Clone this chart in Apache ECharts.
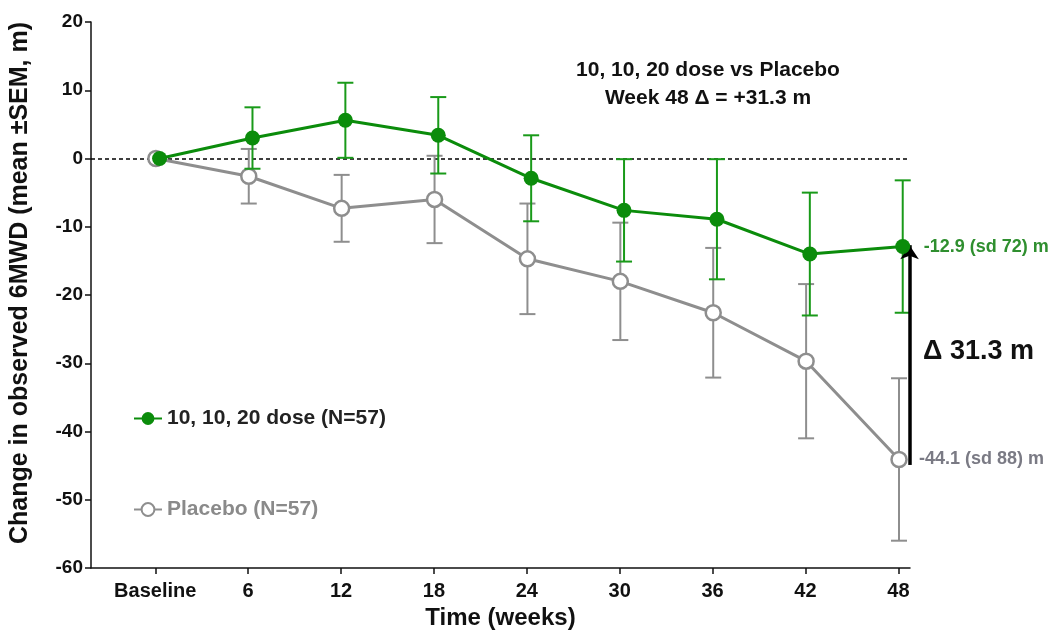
<!DOCTYPE html>
<html>
<head>
<meta charset="utf-8">
<script src="https://cdn.jsdelivr.net/npm/echarts@6/dist/echarts.min.js"></script>
<style>
html,body{margin:0;padding:0;background:#fff;}
#chart{width:1056px;height:630px;}
</style>
</head>
<body>
<div id="chart"></div>
<script>
// ---- data ----
const weeks = [0, 6, 12, 18, 24, 30, 36, 42, 48];
const tickLabels = ['Baseline', '6', '12', '18', '24', '30', '36', '42', '48'];
const doseName = '10, 10, 20 dose (N=57)';
const placeboName = 'Placebo (N=57)';
const doseMean = [0, 3.0, 5.6, 3.4, -2.9, -7.6, -8.9, -14.0, -12.9];
const doseSem = [0, 4.5, 5.5, 5.6, 6.3, 7.5, 8.8, 9.0, 9.7];
const placeboMean = [0, -2.6, -7.3, -6.0, -14.7, -18.0, -22.6, -29.7, -44.1];
const placeboSem = [0, 4.0, 4.9, 6.4, 8.1, 8.6, 9.5, 11.3, 11.9];
const endLabels = ['-12.9 (sd 72) m', '-44.1 (sd 88) m'];
const yTicks = [-60, -50, -40, -30, -20, -10, 0, 10, 20];
const annotation = ['10, 10, 20 dose vs Placebo', 'Week 48 \u0394 = +31.3 m'];
const deltaLabel = '\u0394 31.3 m';

// ---- style ----
const FONT = "'Liberation Sans', Arial, sans-serif";
const GREEN = '#0b8c0b';
const GRAY = '#8e8e8e';
const doseDodge = 0.28, placeboDodge = 0.04;

const doseLine = weeks.map((w, i) => [w + doseDodge, doseMean[i]]);
const placeboLine = weeks.map((w, i) => [w + placeboDodge, placeboMean[i]]);
const doseErr = weeks.map((w, i) => [w + doseDodge, doseMean[i] - doseSem[i], doseMean[i] + doseSem[i]]).filter((d, i) => doseSem[i] > 0);
const placeboErr = weeks.map((w, i) => [w + placeboDodge, placeboMean[i] - placeboSem[i], placeboMean[i] + placeboSem[i]]).filter((d, i) => placeboSem[i] > 0);

function errRender(color) {
  return function (params, api) {
    const x = api.value(0);
    const lo = api.coord([x, api.value(1)]);
    const hi = api.coord([x, api.value(2)]);
    const hw = 8;
    const st = { stroke: color, lineWidth: 2 };
    return {
      type: 'group',
      children: [
        { type: 'line', shape: { x1: lo[0], y1: lo[1], x2: hi[0], y2: hi[1] }, style: st },
        { type: 'line', shape: { x1: lo[0] - hw, y1: lo[1], x2: lo[0] + hw, y2: lo[1] }, style: st },
        { type: 'line', shape: { x1: hi[0] - hw, y1: hi[1], x2: hi[0] + hw, y2: hi[1] }, style: st }
      ]
    };
  };
}

const chart = echarts.init(document.getElementById('chart'), null, { renderer: 'canvas' });
const lastIdx = weeks.length - 1;
const X_MIN = -4.15, X_MAX = 48.75;
const arrowX = 48.72;

const option = {
  animation: false,
  backgroundColor: '#fff',
  textStyle: { fontFamily: FONT },
  grid: { left: 91, right: 146, top: 22, bottom: 62, containLabel: false, outerBoundsMode: 'none' },
  xAxis: {
    type: 'value',
    min: X_MIN,
    max: X_MAX,
    name: 'Time (weeks)',
    nameLocation: 'middle',
    nameGap: 38,
    nameTextStyle: { fontFamily: FONT, fontSize: 24, fontWeight: 'bold', color: '#111' },
    axisLine: { show: true, onZero: false, lineStyle: { color: '#111', width: 1.5 } },
    axisTick: { show: true, length: 6, customValues: weeks, lineStyle: { color: '#111', width: 1.5 } },
    axisLabel: {
      customValues: weeks,
      margin: 13,
      fontFamily: FONT, fontSize: 20, fontWeight: 'bold', color: '#111',
      formatter: v => tickLabels[weeks.indexOf(v)]
    },
    splitLine: { show: false }
  },
  yAxis: {
    type: 'value',
    min: -60, max: 20, interval: 10,
    name: 'Change in observed 6MWD (mean \u00b1SEM, m)',
    nameLocation: 'middle',
    nameRotate: 90,
    nameGap: 58,
    nameTextStyle: { fontFamily: FONT, fontSize: 25, fontWeight: 'bold', color: '#111', padding: [0, 0, 0, 24] },
    axisLine: { show: true, onZero: false, lineStyle: { color: '#111', width: 1.5 } },
    axisTick: { show: true, length: 6, lineStyle: { color: '#111', width: 1.5 } },
    axisLabel: {
      margin: 8,
      fontFamily: FONT, fontSize: 19, fontWeight: 'bold', color: '#111',
      formatter: v => yTicks.includes(v) ? String(v) : ''
    },
    splitLine: { show: false }
  },
  legend: {
    orient: 'vertical',
    left: 128,
    top: 403,
    itemGap: 70,
    itemWidth: 28,
    itemHeight: 16,
    textStyle: { fontFamily: FONT, fontSize: 21, fontWeight: 'bold' },
    data: [
      { name: doseName, textStyle: { color: '#222' } },
      { name: placeboName, textStyle: { color: '#8a8a8a' } }
    ]
  },
  series: [
    {
      name: placeboName + ' err',
      type: 'custom',
      renderItem: errRender(GRAY),
      data: placeboErr,
      z: 2,
      silent: true
    },
    {
      name: placeboName,
      type: 'line',
      data: placeboLine,
      symbol: 'circle',
      symbolSize: 15,
      lineStyle: { color: GRAY, width: 3 },
      itemStyle: { color: '#fff', borderColor: GRAY, borderWidth: 2.5 },
      z: 3,
      endLabel: {
        show: true,
        formatter: () => endLabels[1],
        distance: 20,
        fontFamily: FONT, fontSize: 18, fontWeight: 'bold', color: '#7a7a84'
      },
      markLine: {
        silent: true,
        symbol: 'none',
        label: { show: false },
        lineStyle: { color: '#000', type: [4, 3], width: 1.5 },
        data: [{ yAxis: 0 }],
        z: 1
      }
    },
    {
      name: doseName + ' err',
      type: 'custom',
      renderItem: errRender('#199a19'),
      data: doseErr,
      z: 4,
      silent: true
    },
    {
      name: doseName,
      type: 'line',
      data: doseLine,
      symbol: 'circle',
      symbolSize: 15,
      lineStyle: { color: GREEN, width: 3 },
      itemStyle: { color: GREEN },
      z: 5,
      endLabel: {
        show: true,
        formatter: () => endLabels[0],
        distance: 21,
        fontFamily: FONT, fontSize: 18, fontWeight: 'bold', color: '#2f8f2f'
      }
    },
    {
      name: 'delta arrow',
      type: 'line',
      data: [],
      clip: false,
      silent: true,
      z: 6,
      markLine: {
        silent: true,
        symbol: ['none', 'arrow'],
        symbolSize: 14,
        label: { show: false },
        lineStyle: { color: '#000', type: 'solid', width: 3.5 },
        data: [[
          { coord: [arrowX, placeboMean[lastIdx] - 0.8] },
          { coord: [arrowX, doseMean[lastIdx] + 0.2] }
        ]]
      }
    }
  ],
  graphic: [
    { type: 'text', x: 708, y: 70, style: { text: annotation[0], textAlign: 'center', textVerticalAlign: 'middle', font: 'bold 21px ' + FONT, fill: '#111' } },
    { type: 'text', x: 708, y: 98, style: { text: annotation[1], textAlign: 'center', textVerticalAlign: 'middle', font: 'bold 21px ' + FONT, fill: '#111' } },
    { type: 'text', x: 923, y: 352, style: { text: deltaLabel, textAlign: 'left', textVerticalAlign: 'middle', font: 'bold 27px ' + FONT, fill: '#111' } }
  ]
};
chart.setOption(option);
</script>
</body>
</html>
